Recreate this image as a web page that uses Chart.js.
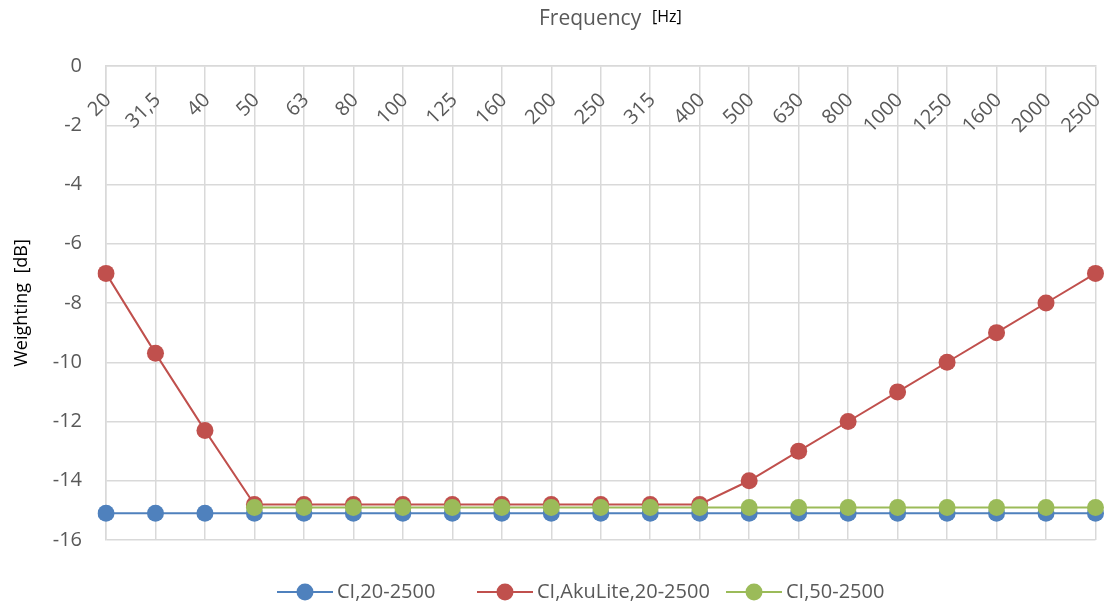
<!DOCTYPE html>
<html>
<head>
<meta charset="utf-8">
<script src="https://cdn.jsdelivr.net/npm/chart.js@4.4.1/dist/chart.umd.min.js"></script>
<style>
    html, body { margin: 0; padding: 0; background: #fff; }
    #wrap { width: 1104px; height: 605px; position: relative; }
</style>
</head>
<body>
<div id="wrap"><canvas id="chart"></canvas></div>
<script>
// ============================================
// DATA
// ============================================

const frequencies = ['20', '31,5', '40', '50', '63', '80', '100', '125', '160', '200', '250',
    '315', '400', '500', '630', '800', '1000', '1250', '1600', '2000', '2500'];

const ci20 = [-15.1, -15.1, -15.1, -15.1, -15.1, -15.1, -15.1, -15.1, -15.1, -15.1, -15.1,
    -15.1, -15.1, -15.1, -15.1, -15.1, -15.1, -15.1, -15.1, -15.1, -15.1];

const ciAkuLite = [-7, -9.7, -12.3, -14.8, -14.8, -14.8, -14.8, -14.8, -14.8, -14.8, -14.8,
    -14.8, -14.8, -14, -13, -12, -11, -10, -9, -8, -7];

const ci50 = [null, null, null, -14.9, -14.9, -14.9, -14.9, -14.9, -14.9, -14.9, -14.9,
    -14.9, -14.9, -14.9, -14.9, -14.9, -14.9, -14.9, -14.9, -14.9, -14.9];

const seriesNames = ['CI,20-2500', 'CI,AkuLite,20-2500', 'CI,50-2500'];
const seriesColors = ['#4F81BD', '#C0504D', '#9BBB59'];

const yTicks = { min: -16, max: 0, step: 2 };

const xTitle = 'Frequency';
const xUnit = '[Hz]';
const yTitle = 'Weighting  [dB]';

// ============================================
// CHART
// ============================================

const FONT = '"Open Sans", "DejaVu Sans", sans-serif';
const TEXT_GREY = '#595959';

const decorPlugin = {
    id: 'decor',
    afterDraw(chart) {
        const ctx = chart.ctx;
        const xs = chart.scales.x;
        const area = chart.chartArea;

        ctx.save();

        // category labels inside the plot, rotated
        ctx.fillStyle = TEXT_GREY;
        ctx.font = `20px ${FONT}`;
        ctx.textAlign = 'right';
        ctx.textBaseline = 'middle';
        for (let i = 0; i < frequencies.length; i++) {
            const x = xs.getPixelForValue(i);
            ctx.save();
            ctx.translate(x + 2, area.top + 31);
            ctx.rotate(-Math.PI / 4);
            ctx.fillText(frequencies[i], 0, 0);
            ctx.restore();
        }

        // top title
        ctx.textAlign = 'left';
        ctx.textBaseline = 'middle';
        ctx.font = `21px ${FONT}`;
        ctx.fillStyle = TEXT_GREY;
        ctx.fillText(xTitle, 539, 19);
        ctx.font = `16px ${FONT}`;
        ctx.fillStyle = '#000';
        ctx.fillText(xUnit, 652, 17);

        // y title
        ctx.save();
        ctx.translate(22, (area.top + area.bottom) / 2);
        ctx.rotate(-Math.PI / 2);
        ctx.textAlign = 'center';
        ctx.font = `18px ${FONT}`;
        ctx.fillStyle = '#000';
        ctx.fillText(yTitle, 0, 0);
        ctx.restore();

        // legend
        const legendX = [277, 477, 726];
        const legendY = 592;
        ctx.font = `20px ${FONT}`;
        ctx.textBaseline = 'middle';
        for (let i = 0; i < seriesNames.length; i++) {
            const lx = legendX[i];
            ctx.strokeStyle = seriesColors[i];
            ctx.lineWidth = 2;
            ctx.beginPath();
            ctx.moveTo(lx, legendY);
            ctx.lineTo(lx + 56, legendY);
            ctx.stroke();
            ctx.fillStyle = seriesColors[i];
            ctx.beginPath();
            ctx.arc(lx + 28, legendY, 8.5, 0, Math.PI * 2);
            ctx.fill();
            ctx.fillStyle = TEXT_GREY;
            ctx.textAlign = 'left';
            ctx.fillText(seriesNames[i], lx + 60, legendY);
        }

        ctx.restore();
    }
};

function makeDataset(label, data, color, order) {
    return {
        label,
        data,
        borderColor: color,
        backgroundColor: color,
        borderWidth: 2,
        pointRadius: 8.5,
        pointHoverRadius: 8.5,
        pointBorderWidth: 0,
        tension: 0,
        spanGaps: false,
        order
    };
}

const ctx = document.getElementById('chart').getContext('2d');

new Chart(ctx, {
    type: 'line',

    data: {
        labels: frequencies,
        datasets: [
            makeDataset(seriesNames[0], ci20, seriesColors[0], 2),
            makeDataset(seriesNames[1], ciAkuLite, seriesColors[1], 1),
            makeDataset(seriesNames[2], ci50, seriesColors[2], 0)
        ]
    },

    options: {
        responsive: true,
        maintainAspectRatio: false,
        animation: false,
        devicePixelRatio: 1,

        layout: {
            padding: { top: 66, right: 7, bottom: 65, left: 0 }
        },

        plugins: {
            legend: { display: false },
            tooltip: { enabled: false },
            title: { display: false }
        },

        scales: {
            x: {
                position: 'top',
                offset: false,
                grid: {
                    color: '#D9D9D9',
                    lineWidth: 1.5,
                    drawTicks: false
                },
                border: { color: '#D9D9D9', width: 1.5 },
                ticks: { display: false },
                afterFit(scale) {
                    scale.height = 0;
                }
            },

            y: {
                min: yTicks.min,
                max: yTicks.max,
                grid: {
                    color: '#D9D9D9',
                    lineWidth: 1.5,
                    drawTicks: false
                },
                border: { color: '#D9D9D9', width: 1.5 },
                ticks: {
                    stepSize: yTicks.step,
                    color: TEXT_GREY,
                    padding: 24,
                    font: { family: FONT, size: 20 }
                },
                afterFit(scale) {
                    scale.width = 106;
                }
            }
        }
    },

    plugins: [decorPlugin]
});
</script>
</body>
</html>
